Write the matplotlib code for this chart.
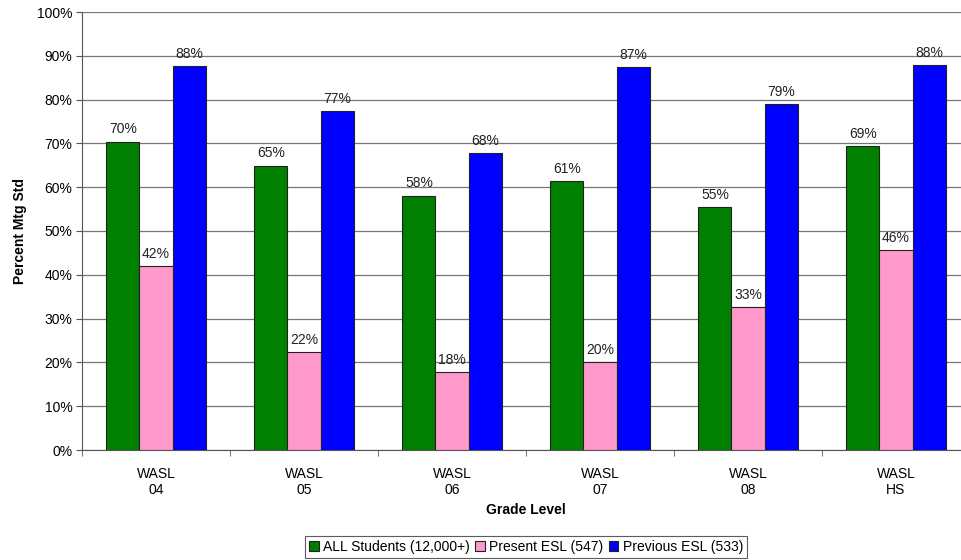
import numpy as np
import matplotlib.pyplot as plt

grades = ['WASL\n04', 'WASL\n05', 'WASL\n06', 'WASL\n07', 'WASL\n08', 'WASL\nHS']
all_students = [70.4, 64.9, 58.1, 61.4, 55.4, 69.4]
present_esl = [41.9, 22.3, 17.8, 20.0, 32.6, 45.6]
previous_esl = [87.7, 77.4, 67.7, 87.4, 79.0, 87.9]
series_names = ['ALL Students (12,000+)', 'Present ESL (547)', 'Previous ESL (533)']
colors = ['#008000', '#FF99CC', '#0000FF']

plt.rcParams['font.family'] = ['Liberation Sans', 'DejaVu Sans']

fig = plt.figure(figsize=(9.62, 5.6), dpi=100)
ax = fig.add_axes([82 / 962, 110 / 560, 888 / 962, 438 / 560])

x = np.arange(len(grades))
w = 0.223
for i, (vals, name, col) in enumerate(zip([all_students, present_esl, previous_esl], series_names, colors)):
    pos = x + (i - 1) * w
    ax.bar(pos, vals, width=w, color=col, edgecolor='#222222', linewidth=0.8, label=name, zorder=3)
    for p, v in zip(pos, vals):
        ax.text(p, v + 1.2, f'{round(v)}%', ha='center', va='bottom', fontsize=10, color='#222222')

ax.set_ylim(0, 100)
ax.set_xlim(-0.5, len(grades) - 0.5)
ax.set_yticks(np.arange(0, 101, 10))
ax.set_yticklabels([f'{t}%' for t in range(0, 101, 10)], fontsize=10)
ax.yaxis.grid(True, color='#777777', linewidth=0.9, zorder=0)
ax.set_xticks(x)
ax.set_xticklabels(grades, fontsize=10, linespacing=1.25)
ax.tick_params(axis='x', length=0, pad=12)
ax.set_xticks(np.arange(-0.5, len(grades)), minor=True)
ax.tick_params(axis='x', which='minor', length=4, color='#555555')
ax.tick_params(axis='y', length=4, color='#555555', pad=3)
for s in ['top', 'right']:
    ax.spines[s].set_visible(False)
ax.spines['left'].set_color('#555555')
ax.spines['bottom'].set_color('#555555')

ax.set_ylabel('Percent Mtg Std', fontsize=10, fontweight='bold', labelpad=7)
ax.set_xlabel('Grade Level', fontsize=10, fontweight='bold', labelpad=4)

leg = fig.legend(loc='center', bbox_to_anchor=(526 / 962, 13 / 560), ncol=3, fontsize=10,
                 frameon=True, fancybox=False, edgecolor='#333333', handlelength=0.7,
                 handleheight=0.7, handletextpad=0.3, columnspacing=0.4, borderpad=0.3)
leg.get_frame().set_linewidth(0.8)

fig.savefig('out.png', dpi=100)
